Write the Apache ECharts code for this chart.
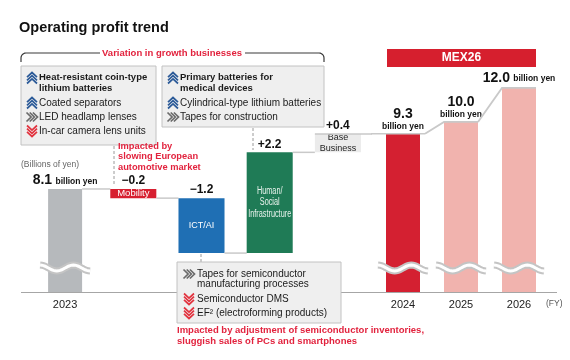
<!DOCTYPE html>
<html><head><meta charset="utf-8">
<script src="https://cdn.jsdelivr.net/npm/echarts@6/dist/echarts.min.js"></script>
<style>html,body{margin:0;padding:0;background:#fff}#c{width:570px;height:360px}</style>
</head><body><div id="c"></div>
<script>
// ---- data ----
const startCategory = '2023';
const startValue = 8.1;
const stepCategories = ['Mobility', 'ICT/AI', 'Human/\nSocial\nInfrastructure', 'Base\nBusiness'];
const stepValues = [-0.2, -1.2, 2.2, 0.4];
const planCategories = ['2024', '2025', '2026'];
const planValues = [9.3, 10.0, 12.0];
const unitText = 'billion yen';

// ---- styles ----
const FF = '"Liberation Sans", Arial, Helvetica, sans-serif';
const RED_TXT = '#e2233e';
const stepFills = ['#d71f30', '#1f6fb4', '#1f7b56', '#ebebeb'];
const stepTextFills = ['#fff', '#fff', '#e8f2ec', '#222'];
const stepFonts = ['9.5px ' + FF, '9px ' + FF, '10px ' + FF, '9px ' + FF];
const stepScaleX = [1, 1, 0.73, 1];
const LINE = '#c9c9c9';

// waterfall ranges derived from data
let level = startValue;
const stepData = stepValues.map((d, i) => {
  const from = level;
  level = Math.round((level + d) * 100) / 100;
  return [i + 1, Math.min(from, level), Math.max(from, level), d, from];
});

function fmtDelta(d) { return (d < 0 ? '\u2212' : '+') + Math.abs(d).toFixed(1); }

function renderStep(params, api) {
  const idx = api.value(0), lo = api.value(1), hi = api.value(2), d = api.value(3), from = api.value(4);
  const band = api.size([1, 0])[0];
  const w = band * 0.675;
  const top = api.coord([idx, hi]), bot = api.coord([idx, lo]);
  const x0 = top[0] - w / 2;
  const prev = api.coord([idx - 1, from]);
  const prevHalf = (idx === 1 ? band * 0.5 : w) / 2;
  const i = params.dataIndex;
  const children = [
    { type: 'line', shape: { x1: prev[0] + prevHalf, y1: prev[1], x2: x0, y2: prev[1] }, style: { stroke: LINE, lineWidth: 1.5 } },
    { type: 'rect', shape: { x: x0, y: top[1], width: w, height: bot[1] - top[1] }, style: { fill: stepFills[i] } },
    { type: 'text', x: top[0], y: (top[1] + bot[1]) / 2, scaleX: stepScaleX[i],
      style: { text: stepCategories[i], x: 0, y: 0, fill: stepTextFills[i], font: stepFonts[i], align: 'center', verticalAlign: 'middle', lineHeight: 11.5 } },
    { type: 'text', style: { text: fmtDelta(d), x: top[0], y: top[1] - 2, align: 'center', verticalAlign: 'bottom', font: 'bold 12px ' + FF, fill: '#111' } }
  ];
  if (i === stepData.length - 1) {
    children.push({ type: 'line', shape: { x1: x0, y1: top[1], x2: params.coordSys.x + params.coordSys.width, y2: top[1] }, style: { stroke: LINE, lineWidth: 1.5 } });
  }
  return { type: 'group', children: children };
}

function renderPlanLinks(params, api) {
  const idx = api.value(0), v = api.value(1);
  const band = api.size([1, 0])[0];
  const half = band * 0.586 / 2;
  const p = api.coord([idx, v]);
  if (idx === 0) {
    return { type: 'line', shape: { x1: params.coordSys.x - 3, y1: p[1], x2: p[0] + half + 5, y2: p[1] }, style: { stroke: LINE, lineWidth: 1.5 } };
  }
  const prev = api.coord([idx - 1, planValues[idx - 1]]);
  return { type: 'polyline', shape: { points: [[prev[0] + half + (idx === 1 ? 5 : 0), prev[1]], [p[0] - half, p[1]], [p[0] + half, p[1]]] }, style: { stroke: LINE, lineWidth: 1.8, fill: null } };
}

function squigglePoints(cx, cy) {
  const pts = [];
  for (let k = 0; k <= 30; k++) {
    const t = k / 30;
    pts.push([cx - 25 + 50 * t, cy - 3 * Math.cos(2 * Math.PI * 1.5 * t)]);
  }
  return pts;
}
function makeSquiggle(valuesList) {
  return function (params, api) {
    const idx = api.value(0);
    const cs = params.coordSys;
    const cx = api.coord([idx, valuesList[idx]])[0];
    const cy = cs.y + cs.height - 24;
    const pts = squigglePoints(cx, cy);
    return { type: 'group', children: [
      { type: 'polyline', shape: { points: pts }, style: { stroke: '#c4c4c4', lineWidth: 7, fill: null } },
      { type: 'polyline', shape: { points: pts }, style: { stroke: '#ffffff', lineWidth: 3, fill: null } }
    ] };
  };
}

// ---- annotation helpers ----
function txt(x, y, text, font, fill, extra) {
  return { type: 'text', x: x, y: y, z: 20, style: Object.assign({ text: text, font: font, fill: fill || '#222', verticalAlign: 'middle', align: 'left' }, extra || {}) };
}
function icon(kind, cx, cy) {
  const color = kind === 'up' ? '#2b5a98' : kind === 'down' ? '#e2333f' : '#6b6b6b';
  const children = [];
  for (let k = -1; k <= 1; k++) {
    let pts;
    if (kind === 'up') pts = [[-5, 2.3], [0, -2.3], [5, 2.3]].map(p => [cx + p[0], cy + p[1] + k * 3.2]);
    else if (kind === 'down') pts = [[-5, -2.3], [0, 2.3], [5, -2.3]].map(p => [cx + p[0], cy + p[1] + k * 3.2]);
    else pts = [[-2.3, -4.5], [2.3, 0], [-2.3, 4.5]].map(p => [cx + p[0] + k * 3.2, cy + p[1]]);
    children.push({ type: 'polyline', z: 20, shape: { points: pts }, style: { stroke: color, lineWidth: 1.7, fill: null } });
  }
  return children;
}
function box(x, y, w, h) {
  return { type: 'rect', z: 15, shape: { x: x, y: y, width: w, height: h }, style: { fill: '#efefef', stroke: '#c2c2c2', lineWidth: 1 } };
}
function item(kind, ix, tx, y, text, bold) {
  return icon(kind, ix, y).concat([txt(tx, y - 5.5, text, (bold ? 'bold 9.5px ' : '10px ') + FF, '#1a1a1a', { verticalAlign: 'top', lineHeight: 10.5 })]);
}
function dashed(x, y1, y2) {
  return { type: 'line', z: 14, shape: { x1: x, y1: y1, x2: x, y2: y2 }, style: { stroke: '#9a9a9a', lineWidth: 1, lineDash: [3, 2] } };
}
function corner(cx, cy, r, a0, a1) {
  const pts = [];
  for (let k = 0; k <= 6; k++) { const a = a0 + (a1 - a0) * k / 6; pts.push([cx + r * Math.cos(a), cy + r * Math.sin(a)]); }
  return pts;
}
const bracketLeft = [[21, 62]].concat(corner(26, 58, 5, Math.PI, Math.PI * 1.5)).concat([[100, 53]]);
const bracketRight = [[245, 53]].concat(corner(319, 58, 5, Math.PI * 1.5, Math.PI * 2)).concat([[324, 62]]);

const graphics = [].concat(
  [{ type: 'line', z: 1, shape: { x1: 21, y1: 292.5, x2: 557, y2: 292.5 }, style: { stroke: '#a6a6a6', lineWidth: 1 } }],
  [{ type: 'polyline', z: 20, shape: { points: bracketLeft }, style: { stroke: '#3a3a3a', lineWidth: 1.2, fill: null } },
   { type: 'polyline', z: 20, shape: { points: bracketRight }, style: { stroke: '#3a3a3a', lineWidth: 1.2, fill: null } }],
  [txt(172, 53, 'Variation in growth businesses', 'bold 9.5px ' + FF, RED_TXT, { align: 'center' })],
  [box(21, 66, 135, 79)],
  item('up', 32, 39, 78, 'Heat-resistant coin-type\nlithium batteries', true),
  item('up', 32, 39, 103, 'Coated separators', false),
  item('right', 32, 39, 117, 'LED headlamp lenses', false),
  item('down', 32, 39, 131, 'In-car camera lens units', false),
  [box(162, 66, 162, 61)],
  item('up', 173, 180, 78, 'Primary batteries for\nmedical devices', true),
  item('up', 173, 180, 103, 'Cylindrical-type lithium batteries', false),
  item('right', 173, 180, 117, 'Tapes for construction', false),
  [dashed(114, 146, 186), dashed(253, 128, 150), dashed(201, 254, 262)],
  [txt(118, 141, 'Impacted by\nslowing European\nautomotive market', 'bold 9.3px ' + FF, RED_TXT, { verticalAlign: 'top', lineHeight: 10.5 })],
  [box(177, 262, 164, 61)],
  item('right', 189, 197, 274, 'Tapes for semiconductor\nmanufacturing processes', false),
  item('down', 189, 197, 299, 'Semiconductor DMS', false),
  item('down', 189, 197, 313, 'EF\u00b2 (electroforming products)', false),
  [txt(177, 325, 'Impacted by adjustment of semiconductor inventories,\nsluggish sales of PCs and smartphones', 'bold 9.5px ' + FF, RED_TXT, { verticalAlign: 'top', lineHeight: 11 })],
  [txt(21, 165, '(Billions of yen)', '8.5px ' + FF, '#666')],
  [txt(546, 304, '(FY)', '8.5px ' + FF, '#555')],
  [{ type: 'rect', z: 15, shape: { x: 387, y: 49, width: 149, height: 18 }, style: { fill: '#d61f2e' } },
   txt(461.5, 58, 'MEX26', 'bold 12px ' + FF, '#fff', { align: 'center' })]
);

const axisLabelBase = { interval: 0, margin: 7, fontSize: 11, color: '#222', fontFamily: FF };

const chart = echarts.init(document.getElementById('c'), null, { renderer: 'canvas' });
chart.setOption({
  animation: false,
  backgroundColor: '#fff',
  title: { text: 'Operating profit trend', left: 19, top: 20, padding: 0, textStyle: { fontSize: 14.5, fontWeight: 'bold', color: '#111', fontFamily: FF } },
  grid: [
    { left: 31, top: 42, width: 341, height: 250, outerBoundsMode: 'none' },
    { left: 374, top: 42, width: 174, height: 250, outerBoundsMode: 'none' }
  ],
  xAxis: [
    { gridIndex: 0, type: 'category', data: [startCategory].concat(stepCategories), axisLine: { show: false }, axisTick: { show: false },
      axisLabel: Object.assign({}, axisLabelBase, { formatter: (v, i) => (i === 0 ? v : '') }) },
    { gridIndex: 1, type: 'category', data: planCategories, axisLine: { show: false }, axisTick: { show: false }, axisLabel: axisLabelBase }
  ],
  yAxis: [
    { gridIndex: 0, type: 'value', min: 5.85, max: 11.31, show: false },
    { gridIndex: 1, type: 'value', min: 0, max: 14.7, show: false }
  ],
  graphic: { elements: graphics },
  series: [
    { type: 'bar', xAxisIndex: 0, yAxisIndex: 0, barWidth: 34, z: 2,
      data: [startValue].concat(stepValues.map(() => '-')),
      itemStyle: { color: '#b6b9bc' },
      label: { show: true, position: 'top', distance: 2, formatter: p => '{n|' + p.value.toFixed(1) + '} {u|' + unitText + '}',
        rich: { n: { fontSize: 14, fontWeight: 'bold', color: '#111', fontFamily: FF }, u: { fontSize: 8.5, fontWeight: 'bold', color: '#111', fontFamily: FF, padding: [3, 0, 0, 0] } } } },
    { type: 'custom', xAxisIndex: 0, yAxisIndex: 0, z: 3, data: stepData, encode: { x: 0, y: [1, 2] }, renderItem: renderStep },
    { type: 'bar', xAxisIndex: 1, yAxisIndex: 1, barWidth: 34, z: 2,
      data: planValues.map((v, i) => ({ value: v, itemStyle: { color: i === 0 ? '#d42031' : '#f1b3ae' } })),
      label: { show: true, position: 'top', distance: 2,
        formatter: p => p.dataIndex === planValues.length - 1 ? '{n|' + p.value.toFixed(1) + '} {u|' + unitText + '}' : '{n|' + p.value.toFixed(1) + '}\n{u|' + unitText + '}',
        rich: { n: { fontSize: 14, fontWeight: 'bold', color: '#111', fontFamily: FF, lineHeight: 15 }, u: { fontSize: 8.5, fontWeight: 'bold', color: '#111', fontFamily: FF, lineHeight: 10 } } } },
    { type: 'custom', xAxisIndex: 1, yAxisIndex: 1, z: 4, data: planValues.map((v, i) => [i, v]), renderItem: renderPlanLinks },
    { type: 'custom', xAxisIndex: 0, yAxisIndex: 0, z: 5, data: [[0, startValue]], renderItem: makeSquiggle([startValue]) },
    { type: 'custom', xAxisIndex: 1, yAxisIndex: 1, z: 5, data: planValues.map((v, i) => [i, v]), renderItem: makeSquiggle(planValues) }
  ]
});
</script>
</body></html>
